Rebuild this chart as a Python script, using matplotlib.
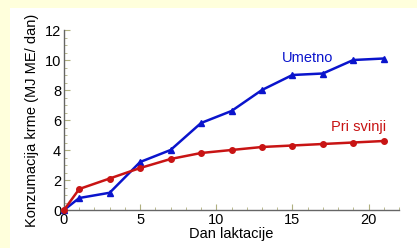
import matplotlib.pyplot as plt
from matplotlib.patches import Rectangle
from matplotlib.ticker import MultipleLocator

plt.rcParams['font.family'] = ['Liberation Sans', 'DejaVu Sans']

days = [0, 1, 3, 5, 7, 9, 11, 13, 15, 17, 19, 21]
umetno = [0, 0.8, 1.15, 3.2, 4.0, 5.8, 6.6, 8.0, 9.0, 9.1, 10.0, 10.1]
pri_svinji = [0, 1.4, 2.1, 2.8, 3.4, 3.8, 4.0, 4.2, 4.3, 4.4, 4.5, 4.6]

fig = plt.figure(figsize=(4.17, 2.48), dpi=100)
fig.patch.set_facecolor('#FFFFDC')
fig.patches.append(Rectangle((10/417, 0), 1, 1 - 8/248, transform=fig.transFigure,
                             facecolor='white', edgecolor='none', zorder=-5))

ax = fig.add_axes([64/417, 38/248, 335/417, 180/248])
ax.set_zorder(2)
ax.set_facecolor('none')

ax.plot(days, umetno, color='#0A14CC', lw=1.8, marker='^', ms=4.5, clip_on=False, zorder=3)
ax.plot(days, pri_svinji, color='#C81414', lw=1.8, marker='o', ms=4, clip_on=False, zorder=3)

# labels placed in pixel coords (origin bottom-left)
ax.text(282, 248 - 58, 'Umetno', color='#0A14CC', fontsize=10.5,
        transform=None, va='center')
ax.text(331, 248 - 127, 'Pri svinji', color='#C81414', fontsize=10.5,
        transform=None, va='center')

ax.set_xlim(0, 22)
ax.set_ylim(0, 12)
ax.xaxis.set_major_locator(MultipleLocator(5))
ax.xaxis.set_minor_locator(MultipleLocator(1))
ax.yaxis.set_major_locator(MultipleLocator(2))
ax.yaxis.set_minor_locator(MultipleLocator(0.5))
for s in ['top', 'right']:
    ax.spines[s].set_visible(False)
for s in ['left', 'bottom']:
    ax.spines[s].set_color('#666666')
    ax.spines[s].set_linewidth(1)
ax.tick_params(which='both', direction='in', color='#B0B080', labelsize=10.5)
ax.tick_params(which='major', length=4, pad=2)
ax.tick_params(which='minor', length=2.5)

ax.set_xlabel('Dan laktacije', fontsize=10.5, labelpad=0)
ax.set_ylabel('Konzumacija krme (MJ ME/ dan)', fontsize=10.5, labelpad=4)

fig.savefig('out.png', dpi=100, facecolor=fig.get_facecolor())
